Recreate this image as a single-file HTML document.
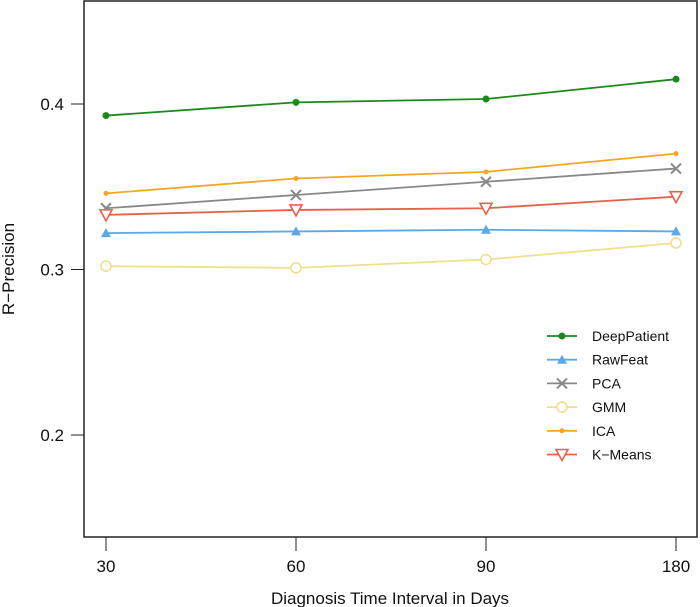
<!DOCTYPE html>
<html><head><meta charset="utf-8"><style>
body{margin:0;background:#fff;}
svg{display:block;font-family:"Liberation Sans",Arial,sans-serif;}
</style></head><body>
<svg id="chart" width="700" height="607"></svg>
<script>
const categories = ["30","60","90","180"];
const seriesNames = ["DeepPatient","RawFeat","PCA","GMM","ICA","K\u2212Means"];
const deepPatient = [0.393,0.401,0.403,0.415];
const rawFeat = [0.322,0.323,0.324,0.323];
const pca = [0.337,0.345,0.353,0.361];
const gmm = [0.302,0.301,0.306,0.316];
const ica = [0.346,0.355,0.359,0.370];
const kMeans = [0.333,0.336,0.337,0.344];
const yTicks = [0.2,0.3,0.4];

const NS="http://www.w3.org/2000/svg";
const svg=document.getElementById('chart');
function mk(t,a,p){const e=document.createElementNS(NS,t);for(const k in a)e.setAttribute(k,a[k]);(p||svg).appendChild(e);return e;}
const L=84,R=697,T=1,B=537;
const xPos=i=>106+i*190;
const y=v=>269.5-(v-0.3)*1655;

const box=mk('rect',{x:L,y:T,width:R-L,height:B-T,fill:'none',stroke:'#222','stroke-width':1.5});



categories.forEach((c,i)=>{
  const tk=mk('line',{x1:xPos(i),x2:xPos(i),y1:B,y2:B+14,stroke:'#222'});
  
  
  const t=mk('text',{x:xPos(i),y:572,'text-anchor':'middle','font-size':17,fill:'#111'});
  t.textContent=c;
  
  
});
yTicks.forEach(v=>{
  const tk=mk('line',{x1:L-13,x2:L,y1:y(v),y2:y(v),stroke:'#222'});
  
  
  const t=mk('text',{x:64,y:y(v)+6,'text-anchor':'end','font-size':17,fill:'#111'});
  t.textContent=v.toFixed(1);
  
  
});
const xt=mk('text',{x:390,y:604,'text-anchor':'middle','font-size':17,fill:'#111'});
xt.textContent='Diagnosis Time Interval in Days';


const yt=mk('text',{x:0,y:0,'text-anchor':'middle','font-size':17,fill:'#111',transform:'translate(14,269) rotate(-90)'});
yt.textContent='R\u2212Precision';



const series=[deepPatient,rawFeat,pca,gmm,ica,kMeans];
const colors=['#1a8a1a','#5aa8e8','#888888','#f0e08a','#f5a623','#e8604c'];
const markers=['dot','tri','x','circ','small','dtri'];
function marker(kind,cx,cy,col,g){
  if(kind==='dot')mk('circle',{cx,cy,r:3.5,fill:col},g);
  else if(kind==='small')mk('circle',{cx,cy,r:2.5,fill:col},g);
  else if(kind==='tri')mk('polygon',{points:`${cx-5},${cy+4} ${cx+5},${cy+4} ${cx},${cy-5}`,fill:col},g);
  else if(kind==='x'){mk('line',{x1:cx-5,y1:cy-5,x2:cx+5,y2:cy+5,stroke:col,'stroke-width':2},g);mk('line',{x1:cx-5,y1:cy+5,x2:cx+5,y2:cy-5,stroke:col,'stroke-width':2},g);}
  else if(kind==='circ')mk('circle',{cx,cy,r:5,fill:'#fff',stroke:col,'stroke-width':1.6},g);
  else if(kind==='dtri')mk('polygon',{points:`${cx-6},${cy-5} ${cx+6},${cy-5} ${cx},${cy+6}`,fill:'#fff',stroke:col,'stroke-width':1.6},g);
}
series.forEach((vals,s)=>{
  const g=mk('g',{});
  
  
  mk('polyline',{points:vals.map((v,i)=>xPos(i)+','+y(v)).join(' '),fill:'none',stroke:colors[s],'stroke-width':1.8},g);
  vals.forEach((v,i)=>marker(markers[s],xPos(i),y(v),colors[s],g));
});
seriesNames.forEach((n,s)=>{
  const ly=336+s*23.7;
  const g=mk('g',{});
  
  
  mk('line',{x1:547,x2:577,y1:ly,y2:ly,stroke:colors[s],'stroke-width':1.8},g);
  marker(markers[s],562,ly,colors[s],g);
  const t=mk('text',{x:592,y:ly+5,'font-size':14,fill:'#111'},g);
  t.textContent=n;
});
</script>
</body></html>
